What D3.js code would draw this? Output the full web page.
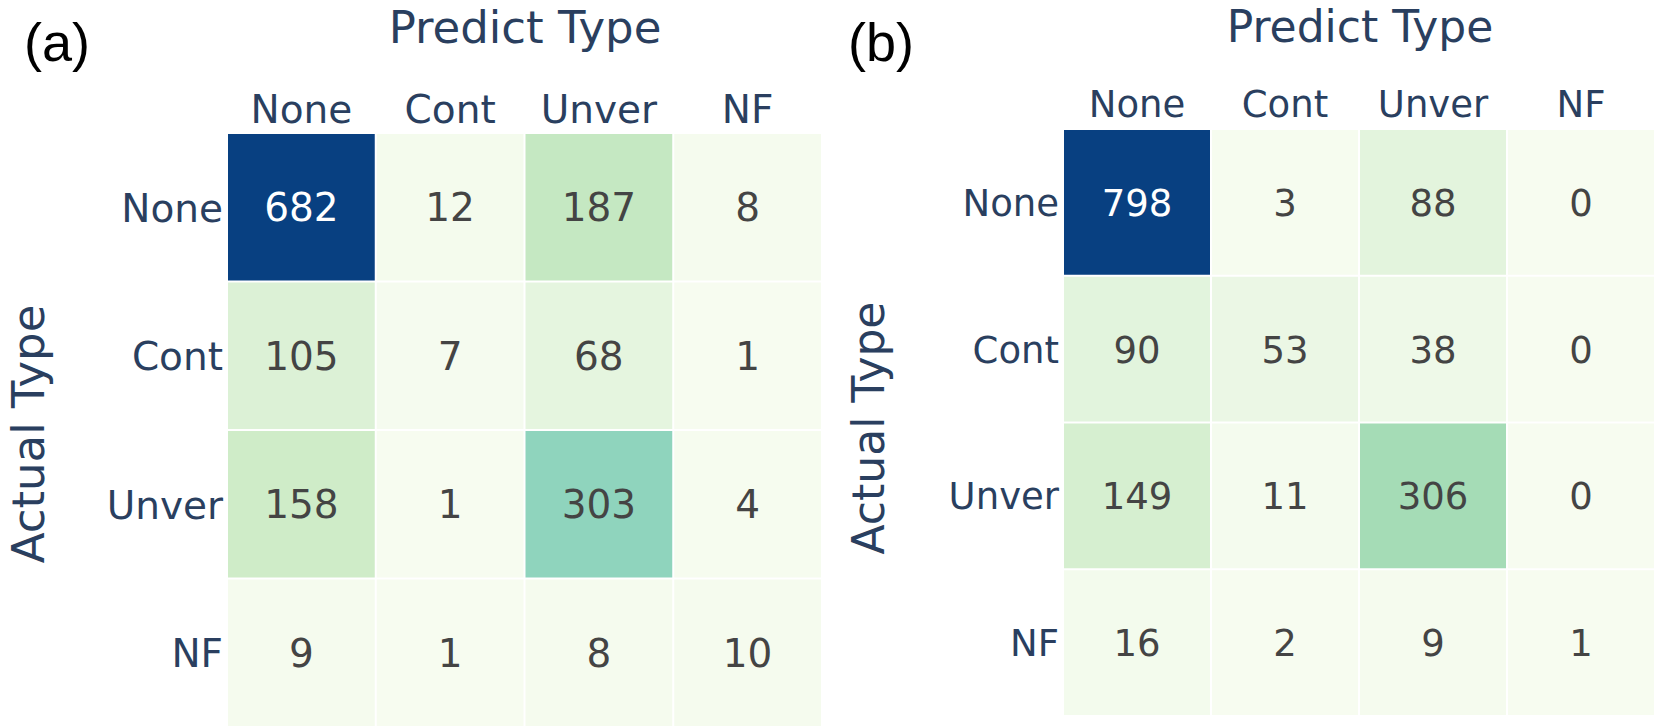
<!DOCTYPE html>
<html>
<head>
<meta charset="utf-8">
<script src="https://cdn.jsdelivr.net/npm/d3@7"></script>
<style>
  html, body { margin: 0; padding: 0; background: #fff; }
  svg { display: block; }
</style>
</head>
<body>
<svg id="chart" width="1660" height="728"></svg>
<script>
// ---- data ----
const categories = ["None", "Cont", "Unver", "NF"];
const valuesA = [
  [682, 12, 187, 8],
  [105, 7, 68, 1],
  [158, 1, 303, 4],
  [9, 1, 8, 10]
];
const valuesB = [
  [798, 3, 88, 0],
  [90, 53, 38, 0],
  [149, 11, 306, 0],
  [16, 2, 9, 1]
];
const panelLabels = ["(a)", "(b)"];
const xTitle = "Predict Type";
const yTitle = "Actual Type";
const gnbu = ["rgb(247,252,240)", "rgb(224,243,219)", "rgb(204,235,197)", "rgb(168,221,181)",
              "rgb(123,204,196)", "rgb(78,179,211)", "rgb(43,140,190)", "rgb(8,104,172)", "rgb(8,64,129)"];

const svg = d3.select("#chart");
const NAVY = "#2a3f5f";
const FONT = "'DejaVu Sans', Verdana, sans-serif";

const panels = [
  { values: valuesA, label: panelLabels[0], x0: 227, x1: 822, y0: 133, y1: 727, fs: 39,
    titleX: 525, titleY: 43, titleFs: 45, ytX: 44, ytY: 434, labX: 24, labY: 61, headPad: 10 },
  { values: valuesB, label: panelLabels[1], x0: 1063, x1: 1655, y0: 129, y1: 716, fs: 37,
    titleX: 1360, titleY: 42, titleFs: 44, ytX: 884, ytY: 428, labX: 848, labY: 61, headPad: 12 }
];

panels.forEach(p => {
  const x = d3.scaleBand().domain(categories).range([p.x0, p.x1]).padding(0);
  const y = d3.scaleBand().domain(categories).range([p.y0, p.y1]).padding(0);
  const flat = p.values.flat();
  const vmin = d3.min(flat), vmax = d3.max(flat);
  const color = d3.scaleLinear()
    .domain(gnbu.map((_, i) => vmin + (vmax - vmin) * i / (gnbu.length - 1)))
    .range(gnbu)
    .interpolate(d3.interpolateRgb);

  const cells = [];
  p.values.forEach((row, ri) => row.forEach((v, ci) => cells.push({ r: categories[ri], c: categories[ci], v })));

  const g = svg.append("g");
  const gap = 1;
  g.selectAll("rect").data(cells).join("rect")
    .attr("x", d => x(d.c) + gap)
    .attr("y", d => y(d.r) + gap)
    .attr("width", x.bandwidth() - 2 * gap)
    .attr("height", y.bandwidth() - 2 * gap)
    .attr("fill", d => color(d.v));

  g.selectAll("text.val").data(cells).join("text")
    .attr("class", "val")
    .attr("x", d => x(d.c) + x.bandwidth() / 2)
    .attr("y", d => y(d.r) + y.bandwidth() / 2 + 0.365 * p.fs)
    .attr("text-anchor", "middle")
    .attr("font-family", FONT)
    .attr("font-size", p.fs)
    .attr("fill", d => (d.v - vmin) / (vmax - vmin) > 0.6 ? "#ffffff" : "#444444")
    .text(d => d.v);

  // top axis (predicted)
  const ax = svg.append("g").attr("transform", `translate(0,${p.y0})`)
    .call(d3.axisTop(x).tickSize(0).tickPadding(p.headPad));
  ax.select(".domain").remove();
  ax.selectAll("text").attr("font-family", FONT).attr("font-size", p.fs).attr("fill", NAVY);

  // left axis (actual)
  const ay = svg.append("g").attr("transform", `translate(${p.x0},0)`)
    .call(d3.axisLeft(y).tickSize(0).tickPadding(4));
  ay.select(".domain").remove();
  ay.selectAll("text").attr("font-family", FONT).attr("font-size", p.fs).attr("fill", NAVY)
    .attr("dy", "0.365em");

  // titles
  svg.append("text")
    .attr("x", p.titleX).attr("y", p.titleY)
    .attr("text-anchor", "middle")
    .attr("font-family", FONT).attr("font-size", p.titleFs).attr("fill", NAVY)
    .text(xTitle);
  svg.append("text")
    .attr("transform", `translate(${p.ytX},${p.ytY}) rotate(-90)`)
    .attr("text-anchor", "middle")
    .attr("font-family", FONT).attr("font-size", p.titleFs).attr("fill", NAVY)
    .text(yTitle);

  // panel label
  svg.append("text")
    .attr("x", p.labX).attr("y", p.labY)
    .attr("font-family", "'Liberation Sans', Arial, sans-serif")
    .attr("font-size", 54).attr("fill", "#000")
    .text(p.label);
});
</script>
</body>
</html>
